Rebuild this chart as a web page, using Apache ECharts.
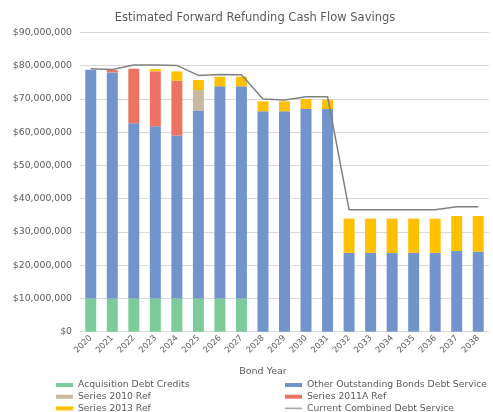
<!DOCTYPE html>
<html>
<head>
<meta charset="utf-8">
<script src="https://cdn.jsdelivr.net/npm/echarts@6/dist/echarts.min.js"></script>
<style>html,body{margin:0;padding:0;background:#fff}#c{width:493px;height:412px}</style>
</head>
<body>
<div id="c"></div>
<script>
const years = ['2020','2021','2022','2023','2024','2025','2026','2027','2028','2029','2030','2031','2032','2033','2034','2035','2036','2037','2038'];
const acquisitionDebtCredits = [10.0,10.0,10.0,10.0,10.0,10.0,10.0,10.0,0,0,0,0,0,0,0,0,0,0,0];
const otherOutstanding = [68.8,68.0,52.7,51.8,49.0,56.5,63.8,63.8,66.3,66.3,67.0,67.0,23.7,23.7,23.7,23.7,23.7,24.3,24.1];
const series2010Ref = [0,0,0,0,0,6.2,0,0,0,0,0,0,0,0,0,0,0,0,0];
const series2011ARef = [0,0.7,16.4,16.5,16.5,0,0,0,0,0,0,0,0,0,0,0,0,0,0];
const series2013Ref = [0,0,0,0.7,2.8,3.0,2.9,2.9,3.0,3.0,3.0,2.8,10.3,10.3,10.3,10.3,10.3,10.5,10.7];
const currentCombined = [79.1,78.9,80.2,80.2,80.1,77.1,77.4,77.3,70.0,69.7,70.7,70.7,36.7,36.7,36.7,36.7,36.7,37.6,37.6];
const M = 1000000;
const toDollars = a => a.map(v => Math.round(v * M));

const chart = echarts.init(document.getElementById('c'), null, {renderer:'canvas'});
const font = 'DejaVu Sans';
const txt = '#595959';
const barBase = {type:'bar', stack:'total', barCategoryGap:'49%'};
const legendText = {color:txt, fontFamily:font, fontSize:9.25, lineHeight:10};
chart.setOption({
  animation:false,
  backgroundColor:'#fff',
  graphic:[
    {type:'text', x:255, y:18, style:{text:'Estimated Forward Refunding Cash Flow Savings', fill:txt, font:'11.5px "DejaVu Sans"', textAlign:'center', textVerticalAlign:'middle'}},
    {type:'text', x:263, y:372, style:{text:'Bond Year', fill:txt, font:'9.5px "DejaVu Sans"', textAlign:'center', textVerticalAlign:'middle'}}
  ],
  grid:{left:80, right:4, top:32.5, bottom:80.3, containLabel:false},
  legend:[
    {orient:'vertical', left:56, top:380, height:60, padding:0, itemWidth:17, itemHeight:4, itemGap:1.7, icon:'rect',
     textStyle:legendText, data:['Acquisition Debt Credits','Series 2010 Ref','Series 2013 Ref']},
    {orient:'vertical', left:285, top:380, height:60, padding:0, itemWidth:17, itemHeight:4, itemGap:1.7, icon:'rect',
     textStyle:legendText, data:['Other Outstanding Bonds Debt Service','Series 2011A Ref',{name:'Current Combined Debt Service', icon:'path://M0,1.2 L17,1.2 L17,2.8 L0,2.8 Z'}]}
  ],
  xAxis:{type:'category', data:years,
    axisLine:{lineStyle:{color:'#d9d9d9'}},
    axisTick:{length:4, lineStyle:{color:'#d9d9d9'}},
    axisLabel:{rotate:45, interval:0, color:txt, fontFamily:font, fontSize:8.3, margin:5}},
  yAxis:{type:'value', min:0, max:90*M, interval:10*M,
    axisLine:{show:false}, axisTick:{show:false},
    splitLine:{lineStyle:{color:'#d9d9d9'}},
    axisLabel:{color:txt, fontFamily:font, fontSize:9.3, margin:8,
      formatter:v => '$' + Math.round(v).toLocaleString('en-US')}},
  series:[
    Object.assign({name:'Acquisition Debt Credits', data:toDollars(acquisitionDebtCredits), itemStyle:{color:'#7ccb9b'}}, barBase),
    Object.assign({name:'Other Outstanding Bonds Debt Service', data:toDollars(otherOutstanding), itemStyle:{color:'#7094cb'}}, barBase),
    Object.assign({name:'Series 2010 Ref', data:toDollars(series2010Ref), itemStyle:{color:'#c7b8a1'}}, barBase),
    Object.assign({name:'Series 2011A Ref', data:toDollars(series2011ARef), itemStyle:{color:'#ea7362'}}, barBase),
    Object.assign({name:'Series 2013 Ref', data:toDollars(series2013Ref), itemStyle:{color:'#ffc000'}}, barBase),
    {name:'Current Combined Debt Service', type:'line', data:toDollars(currentCombined), symbol:'none',
     lineStyle:{color:'#808080', width:1.5}, itemStyle:{color:'#a6a6a6'}, z:5}
  ]
});
</script>
</body>
</html>
